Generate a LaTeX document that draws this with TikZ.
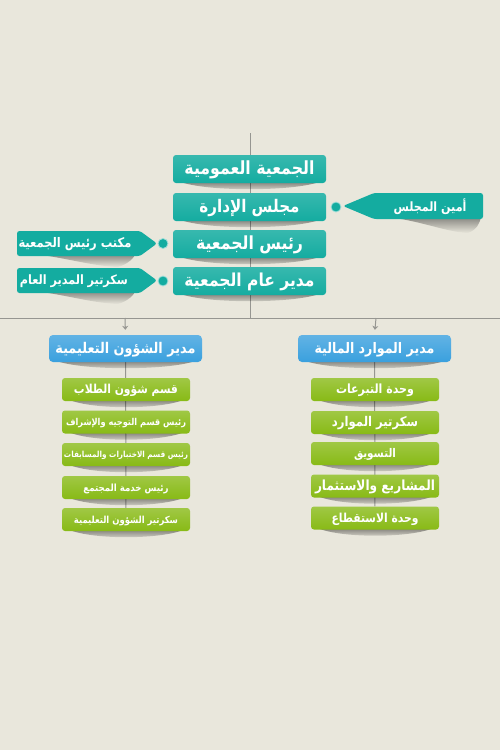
\documentclass[tikz,border=0pt]{standalone}
\usepackage{fontspec}
\newfontfamily\arabicfont[Script=Arabic]{DejaVu Sans}
\TeXXeTstate=1
\usetikzlibrary{calc,fadings,arrows.meta}
\pgfdeclarelayer{bg}
\pgfdeclarelayer{sh}
\pgfsetlayers{bg,sh,main}
\definecolor{bgc}{RGB}{233,231,220}
\definecolor{tealc}{RGB}{20,172,160}
\definecolor{bluec}{RGB}{58,160,222}
\definecolor{greenc}{RGB}{136,186,22}
\definecolor{linec}{RGB}{150,150,145}
\newcommand\arw[2]{\raisebox{-1pt}[\height][\depth]{\scalebox{1}[1.15]{\resizebox{#1pt}{!}{\arabicfont\bfseries #2}}}}
\newcommand\shd[1]{\fill[black,opacity=.5,path fading=south]
  ($(#1.south west)+(4,-3)$) .. controls ($(#1.south west)+(25,9)$) and ($(#1.south east)+(-25,9)$) .. ($(#1.south east)+(-3,-3)$) -- cycle;}
\begin{document}
\begin{tikzpicture}[x=1pt,y=-1pt,
  tbox/.style={rounded corners=3pt, top color=tealc!85!white, bottom color=tealc, minimum width=153pt, minimum height=28pt, inner sep=0pt, text=white},
  bbox/.style={rounded corners=4pt, top color=bluec!80!white, bottom color=bluec, minimum width=153pt, minimum height=27pt, inner sep=0pt, text=white},
  gbox/.style={rounded corners=3pt, top color=greenc!80!white, bottom color=greenc, minimum width=128pt, minimum height=23pt, inner sep=0pt, text=white},
  ctext/.style={text=white, inner sep=0pt},
  dot/.style={circle, fill=tealc, draw=tealc!40!white, line width=0.8pt, minimum size=10pt, inner sep=0pt},
  gline/.style={draw=linec, line width=1pt},
  arr/.style={gline, -{Stealth[length=4pt,width=6pt]}, shorten >=5pt}]
\useasboundingbox (0,0) rectangle (500,750);
\begin{pgfonlayer}{bg}
\fill[bgc] (0,0) rectangle (500,750);
\end{pgfonlayer}
% coordinates
\coordinate (top) at (250,133);
\coordinate (mid) at (250,318);
\coordinate (hl) at (0,318);
\coordinate (hr) at (500,318);
\coordinate (cL) at (125,318);
\coordinate (cR) at (376,318);
% top boxes
\node[tbox] (gen) at (249.5,169) {\arw{130}{\beginR الجمعية العمومية\endR}};
\node[tbox] (board) at (249.5,207) {\arw{100}{\beginR مجلس الإدارة\endR}};
\node[tbox] (pres) at (249.5,244) {\arw{107}{\beginR رئيس الجمعية\endR}};
\node[tbox] (gm) at (249.5,281) {\arw{130}{\beginR مدير عام الجمعية\endR}};
% callouts
\fill[tealc, rounded corners=2.5pt] (343,206) -- (374,193) -- (483,193) -- (483,219) -- (374,219) -- cycle;
\node[ctext] (amin) at (430,206) {\arw{73}{\beginR أمين المجلس\endR}};
\fill[tealc, rounded corners=2.5pt] (157,243.5) -- (140,256) -- (17,256) -- (17,231) -- (140,231) -- cycle;
\node[ctext] (office) at (75,243.5) {\arw{113}{\beginR مكتب رئيس الجمعية\endR}};
\fill[tealc, rounded corners=2.5pt] (157,280.5) -- (140,293) -- (17,293) -- (17,268) -- (140,268) -- cycle;
\node[ctext] (sec) at (74,280.5) {\arw{108}{\beginR سكرتير المدير العام\endR}};
\node[dot] (d1) at (336,207) {};
\node[dot] (d2) at (163,243.5) {};
\node[dot] (d3) at (163,281) {};
% blue
\node[bbox] (edu) at (125.5,348.5) {\arw{140}{\beginR مدير الشؤون التعليمية\endR}};
\node[bbox] (fin) at (374.5,348.5) {\arw{120}{\beginR مدير الموارد المالية\endR}};
% green left
\node[gbox] (e1) at (126,389.5) {\arw{104}{\beginR قسم شؤون الطلاب\endR}};
\node[gbox] (e2) at (126,422) {\arw{120}{\beginR رئيس قسم التوجيه والإشراف\endR}};
\node[gbox] (e3) at (126,454.5) {\arw{124}{\beginR رئيس قسم الاختبارات والمسابقات\endR}};
\node[gbox] (e4) at (126,487.5) {\arw{85}{\beginR رئيس خدمة المجتمع\endR}};
\node[gbox] (e5) at (126,519.5) {\arw{104}{\beginR سكرتير الشؤون التعليمية\endR}};
% green right
\node[gbox] (f1) at (375,389.5) {\arw{78}{\beginR وحدة التبرعات\endR}};
\node[gbox] (f2) at (375,422.5) {\arw{86}{\beginR سكرتير الموارد\endR}};
\node[gbox] (f3) at (375,453.5) {\arw{42}{\beginR التسويق\endR}};
\node[gbox] (f4) at (375,486) {\arw{120}{\beginR المشاريع والاستثمار\endR}};
\node[gbox] (f5) at (375,518) {\arw{87}{\beginR وحدة الاستقطاع\endR}};
% lines
\begin{pgfonlayer}{bg}
\draw[gline] (top) -- (mid);
\draw[gline] (hl) -- (hr);
\draw[arr] (cL) -- (edu.north);
\draw[arr] (cR) -- (fin.north);
\draw[gline] (edu) -- (e5);
\draw[gline] (fin) -- (f5);
\end{pgfonlayer}
% shadows
\begin{pgfonlayer}{sh}
\foreach \n in {gen,board,pres,gm,edu,fin,e1,e2,e3,e4,e5,f1,f2,f3,f4,f5}{\shd{\n}}
\fill[black,opacity=.45,path fading=south] (380,216) .. controls (420,220) and (445,232) .. (468,233) .. controls (476,230) and (480,224) .. (481,216) -- cycle;
\fill[black,opacity=.45,path fading=south] (25,253) .. controls (60,256) and (90,266) .. (118,267) .. controls (128,264) and (134,258) .. (136,253) -- cycle;
\fill[black,opacity=.45,path fading=south] (25,290) .. controls (60,293) and (90,303) .. (118,304) .. controls (128,301) and (134,295) .. (136,290) -- cycle;
\end{pgfonlayer}
\end{tikzpicture}
\end{document}
